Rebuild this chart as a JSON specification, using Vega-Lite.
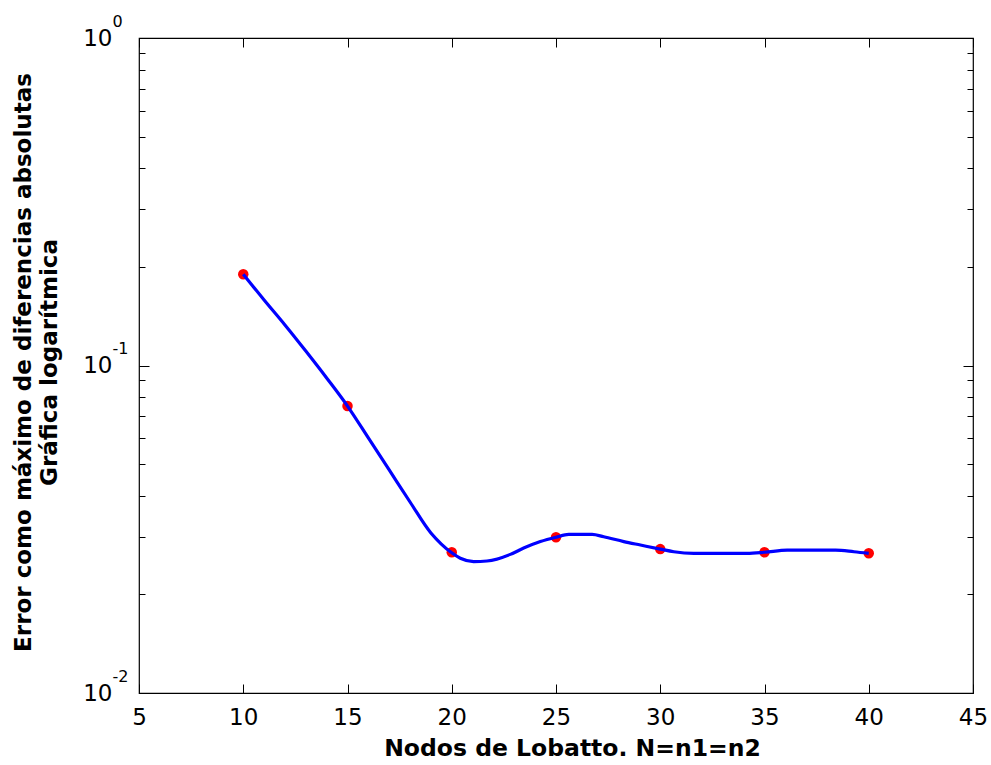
{
  "$schema": "https://vega.github.io/schema/vega-lite/v6.json",
  "width": 834,
  "height": 655,
  "autosize": {"type": "none"},
  "padding": {"left": 139, "top": 38, "right": 18, "bottom": 72},
  "background": "white",
  "config": {
    "view": {"stroke": "black", "strokeWidth": 1.2},
    "font": "DejaVu Sans",
    "axis": {
      "grid": false,
      "domain": false,
      "labelColor": "black",
      "titleColor": "black",
      "tickColor": "black",
      "tickWidth": 1,
      "labelFont": "DejaVu Sans",
      "titleFont": "DejaVu Sans",
      "labelFlush": false,
      "labelOverlap": false,
      "labelBound": false
    }
  },
  "datasets": {
    "pts": [
      {"n": 10, "err": 0.190},
      {"n": 15, "err": 0.0752},
      {"n": 20, "err": 0.0269},
      {"n": 25, "err": 0.0299},
      {"n": 30, "err": 0.0275},
      {"n": 35, "err": 0.0269},
      {"n": 40, "err": 0.0267}
    ],
    "curve": [
      {"n": 10, "err": 0.190},
      {"n": 11, "err": 0.1585},
      {"n": 12, "err": 0.133},
      {"n": 13, "err": 0.1107},
      {"n": 14, "err": 0.0916},
      {"n": 15, "err": 0.0752},
      {"n": 16, "err": 0.0601},
      {"n": 17, "err": 0.048},
      {"n": 18, "err": 0.0383},
      {"n": 19, "err": 0.0308},
      {"n": 19.5, "err": 0.0285},
      {"n": 20, "err": 0.0268},
      {"n": 20.41, "err": 0.0258},
      {"n": 21.05, "err": 0.0252},
      {"n": 21.69, "err": 0.0253},
      {"n": 22.81, "err": 0.0265},
      {"n": 23.45, "err": 0.0277},
      {"n": 24.25, "err": 0.029},
      {"n": 25, "err": 0.0299},
      {"n": 25.61, "err": 0.0305},
      {"n": 26.73, "err": 0.0305},
      {"n": 27.29, "err": 0.03},
      {"n": 28.25, "err": 0.029},
      {"n": 29.05, "err": 0.0283},
      {"n": 30, "err": 0.0275},
      {"n": 30.65, "err": 0.027},
      {"n": 31.61, "err": 0.0267},
      {"n": 34.17, "err": 0.0267},
      {"n": 35, "err": 0.0269},
      {"n": 36.09, "err": 0.0273},
      {"n": 38.41, "err": 0.0273},
      {"n": 39.29, "err": 0.027},
      {"n": 40, "err": 0.0267}
    ]
  },
  "layer": [
    {
      "data": {"name": "pts"},
      "mark": {"type": "circle", "color": "#ff0000", "opacity": 1, "size": 110},
      "encoding": {
        "x": {"field": "n", "type": "quantitative",
          "scale": {"domain": [5, 45], "nice": false, "zero": false},
          "axis": {"orient": "top", "values": [5, 10, 15, 20, 25, 30, 35, 40, 45], "labels": false, "tickSize": -9, "title": null}},
        "y": {"field": "err", "type": "quantitative",
          "scale": {"type": "log", "domain": [0.01, 1], "nice": false},
          "axis": {"orient": "right", "values": [0.01, 0.1, 1], "labels": false, "tickSize": -10, "title": null}}
      }
    },
    {
      "data": {"name": "curve"},
      "mark": {"type": "line", "color": "#0000ff", "strokeWidth": 3.2, "interpolate": "monotone"},
      "encoding": {
        "x": {"field": "n", "type": "quantitative",
          "axis": {"orient": "bottom", "values": [5, 10, 15, 20, 25, 30, 35, 40, 45], "ticks": false,
            "labelFontSize": 23, "labelPadding": 13,
            "title": "Nodos de Lobatto. N=n1=n2", "titleFontSize": 23.5, "titleFontWeight": "bold", "titlePadding": 7, "titleX": 433}},
        "y": {"field": "err", "type": "quantitative",
          "axis": {"orient": "left", "values": [0.01, 0.1, 1], "ticks": false, "labelExpr": "'10'",
            "labelFontSize": 23, "labelPadding": 27,
            "title": ["Error como máximo de diferencias absolutas", "Gráfica logarítmica"],
            "titleFontSize": 23, "titleFontWeight": "bold", "titlePadding": 21, "titleLineHeight": 26, "titleY": 324}}
      }
    },
    {
      "data": {"name": "pts"},
      "mark": {"type": "point", "opacity": 0},
      "encoding": {
        "x": {"field": "n", "type": "quantitative",
          "axis": {"orient": "bottom", "values": [5, 10, 15, 20, 25, 30, 35, 40, 45], "labels": false, "tickSize": -9, "title": null}},
        "y": {"field": "err", "type": "quantitative",
          "axis": {"orient": "left", "values": [0.01, 0.1, 1], "labels": false, "tickSize": -10, "title": null}}
      }
    },
    {
      "data": {"name": "pts"},
      "mark": {"type": "point", "opacity": 0},
      "encoding": {
        "x": {"field": "n", "type": "quantitative", "axis": null},
        "y": {"field": "err", "type": "quantitative",
          "axis": {"orient": "left", "values": [0.02, 0.03, 0.04, 0.05, 0.06, 0.07, 0.08, 0.09, 0.2, 0.3, 0.4, 0.5, 0.6, 0.7, 0.8, 0.9], "labels": false, "tickSize": -6, "title": null}}
      }
    },
    {
      "data": {"name": "pts"},
      "mark": {"type": "point", "opacity": 0},
      "encoding": {
        "x": {"field": "n", "type": "quantitative", "axis": null},
        "y": {"field": "err", "type": "quantitative",
          "axis": {"orient": "right", "values": [0.02, 0.03, 0.04, 0.05, 0.06, 0.07, 0.08, 0.09, 0.2, 0.3, 0.4, 0.5, 0.6, 0.7, 0.8, 0.9], "labels": false, "tickSize": -6, "title": null}}
      }
    },
    {
      "data": {"name": "pts"},
      "mark": {"type": "point", "opacity": 0},
      "encoding": {
        "x": {"field": "n", "type": "quantitative", "axis": null},
        "y": {"field": "err", "type": "quantitative",
          "axis": {"orient": "left", "values": [0.01, 0.1, 1], "ticks": false,
            "labelExpr": "'' + round(log(datum.value) / LN10)",
            "labelFontSize": 16, "labelAlign": "left", "labelPadding": 27, "labelOffset": -17, "title": null}}
      }
    }
  ],
  "resolve": {"axis": {"x": "independent", "y": "independent"}}
}
